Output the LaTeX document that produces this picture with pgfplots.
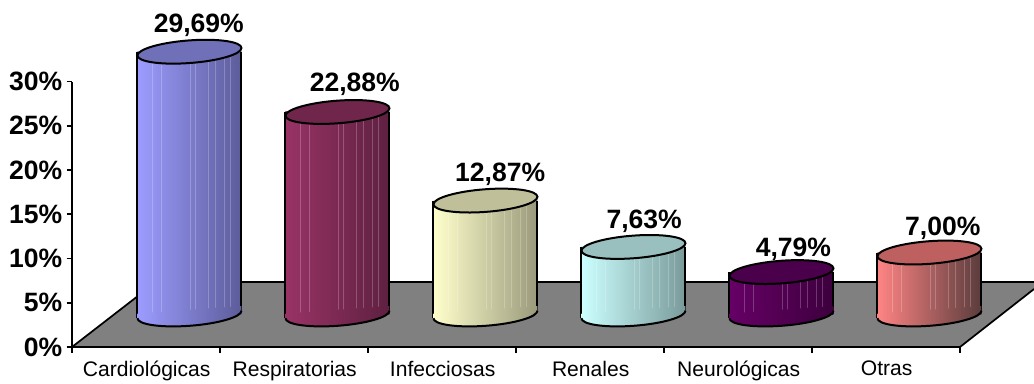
\documentclass[border=0pt]{standalone}
\usepackage{fontspec}
\setmainfont{Liberation Sans}
\usepackage{pgfplots}
\pgfplotsset{compat=1.18}
\pgfkeys{/pgf/number format/assume math mode=true}
\definecolor{c1L}{HTML}{9C9CFF}\definecolor{c1M}{HTML}{7E7ECF}\definecolor{c1R}{HTML}{5C5C9A}\definecolor{c1T}{HTML}{7070B8}
\definecolor{c2L}{HTML}{993366}\definecolor{c2M}{HTML}{7E2A54}\definecolor{c2R}{HTML}{5E2040}\definecolor{c2T}{HTML}{70264B}
\definecolor{c3L}{HTML}{FFFFCC}\definecolor{c3M}{HTML}{D6D6AC}\definecolor{c3R}{HTML}{9A9A7C}\definecolor{c3T}{HTML}{BFBF99}
\definecolor{c4L}{HTML}{CCFFFF}\definecolor{c4M}{HTML}{ABD6D6}\definecolor{c4R}{HTML}{7A9A9A}\definecolor{c4T}{HTML}{99BFBF}
\definecolor{c5L}{HTML}{660066}\definecolor{c5M}{HTML}{550055}\definecolor{c5R}{HTML}{3D003D}\definecolor{c5T}{HTML}{4A004A}
\definecolor{c6L}{HTML}{FF8484}\definecolor{c6M}{HTML}{C96A6A}\definecolor{c6R}{HTML}{5A3C3C}\definecolor{c6T}{HTML}{BF6060}
\newcommand\basemark[3]{%
  \begin{scope}
    \pgftransformcm{1}{0.072}{0}{1}{\pgfpointorigin}%
    \shade[draw=none,left color=#1,middle color=#2,right color=#3]
      (-39pt,3.5pt)--(-39pt,0pt) arc[start angle=180,end angle=360,x radius=39pt,y radius=8.5pt]--(39pt,3.5pt)--cycle;
  \end{scope}}
\pgfdeclareplotmark{basearc}{%
  \pgftransformcm{1}{0.072}{0}{1}{\pgfpointorigin}%
  \pgfsetroundjoin
  \pgfsetlinewidth{1.5pt}%
  \pgfpathmoveto{\pgfqpoint{-39pt}{0pt}}%
  \pgfpatharc{180}{360}{39pt and 8.5pt}%
  \pgfusepathqstroke}
\pgfdeclareplotmark{cyltop}{%
  \pgftransformcm{1}{0.072}{0}{1}{\pgfpointorigin}%
  \pgfpathellipse{\pgfpointorigin}{\pgfqpoint{39pt}{0pt}}{\pgfqpoint{0pt}{8.5pt}}%
  \pgfusepathqfillstroke}
\pgfdeclareplotmark{base1}{\basemark{c1L}{c1M}{c1R}}
\pgfdeclareplotmark{base2}{\basemark{c2L}{c2M}{c2R}}
\pgfdeclareplotmark{base3}{\basemark{c3L}{c3M}{c3R}}
\pgfdeclareplotmark{base4}{\basemark{c4L}{c4M}{c4R}}
\pgfdeclareplotmark{base5}{\basemark{c5L}{c5M}{c5R}}
\pgfdeclareplotmark{base6}{\basemark{c6L}{c6M}{c6R}}
% #1 position, #2 value, #3 colour/mark number, #4 label xshift, #5 label yshift
\newcommand\cyl[5]{%
  \addplot[only marks,mark=base#3,mark options={draw=none},forget plot] coordinates {(#1,0)};
  \addplot[ybar,bar width=78pt,bar shift=0pt,draw=none,
    left color=c#3L,middle color=c#3M,right color=c#3R,forget plot] coordinates {(#1,#2)};
  \addplot[ycomb,white,opacity=0.22,line width=0.5pt,no markers,forget plot,x filter/.expression={x+#1}]
    coordinates {(-0.25,#2)(-0.19,#2)(0.007,#2)(0.04,#2)(0.128,#2)(0.176,#2)(0.236,#2)(0.277,#2)};
  \addplot[black,line width=1.5pt,no markers,forget plot,x filter/.expression={x+#1}] coordinates {(-0.3514,#2)(-0.3514,-0.42)};
  \addplot[black,line width=1.5pt,no markers,forget plot,x filter/.expression={x+#1}] coordinates {(0.3514,#2)(0.3514,0.42)};
  \addplot[only marks,mark=basearc,mark options={draw=black},forget plot] coordinates {(#1,0)};
  \addplot[only marks,mark=cyltop,mark options={fill=c#3T,draw=black,line width=1.5pt},forget plot,
    nodes near coords={\pgfmathprintnumber[fixed,fixed zerofill,precision=2,use comma]{\pgfplotspointmeta}\%},
    every node near coord/.style={anchor=center,inner sep=0pt,xshift=#4,yshift=#5,text=black,
      font=\bfseries\fontsize{19.9}{20}\selectfont}]
    coordinates {(#1,#2)};
}
\begin{document}
\begin{tikzpicture}
\path[use as bounding box] (0,0) rectangle (775.5pt,287.25pt);
\begin{axis}[
  at={(54pt,27pt)},anchor=south west,scale only axis,width=666pt,height=199.125pt,
  xmin=-0.5,xmax=5.5,ymin=0,ymax=30,clip=false,
  axis x line=bottom,axis y line=left,axis line style={-,line width=1.3pt,black},
  xtick={0,1,2,3,4,5},
  xticklabels={Cardiológicas,Respiratorias,Infecciosas,Renales,Neurológicas,Otras},
  minor xtick={-0.5,0.5,1.5,2.5,3.5,4.5,5.5},
  ytick={0,5,10,15,20,25,30},
  yticklabels={0\%,5\%,10\%,15\%,20\%,25\%,30\%},
  major x tick style={draw=none},
  minor x tick style={black,line width=1.3pt},
  y tick style={black,line width=1.3pt},
  major tick length=4pt,minor tick length=4.5pt,
  tick align=outside,
  xticklabel style={font=\fontsize{15.8}{16}\selectfont,yshift=-3pt,xshift=0.5pt},
  yticklabel style={font=\bfseries\fontsize{19.9}{20}\selectfont,xshift=0.2pt},
]
\addplot[draw=none,fill=black!50,forget plot] coordinates {(-0.5,0)(0.0676,7.345)(6.0,7.345)(6.0,6.55)(5.5,0)} --cycle;
\addplot[black,line width=1.3pt,no markers,forget plot] coordinates {(6.0,6.55)(5.5,0)(-0.5,0)(0.0676,7.345)(6.0,7.345)};
\end{axis}
\begin{axis}[
  at={(86.6pt,51.4pt)},anchor=south west,scale only axis,width=666pt,height=199.125pt,
  xmin=-0.5,xmax=5.5,ymin=0,ymax=30,clip=false,hide axis,
]
\cyl{0}{29.69}{1}{7pt}{19.5pt}
\cyl{1}{22.88}{2}{13pt}{20.5pt}
\cyl{2}{12.87}{3}{11pt}{20pt}
\cyl{3}{7.63}{4}{8pt}{19.5pt}
\cyl{4}{4.79}{5}{9pt}{17pt}
\cyl{5}{7.00}{6}{10pt}{18.5pt}
\end{axis}
\end{tikzpicture}
\end{document}
